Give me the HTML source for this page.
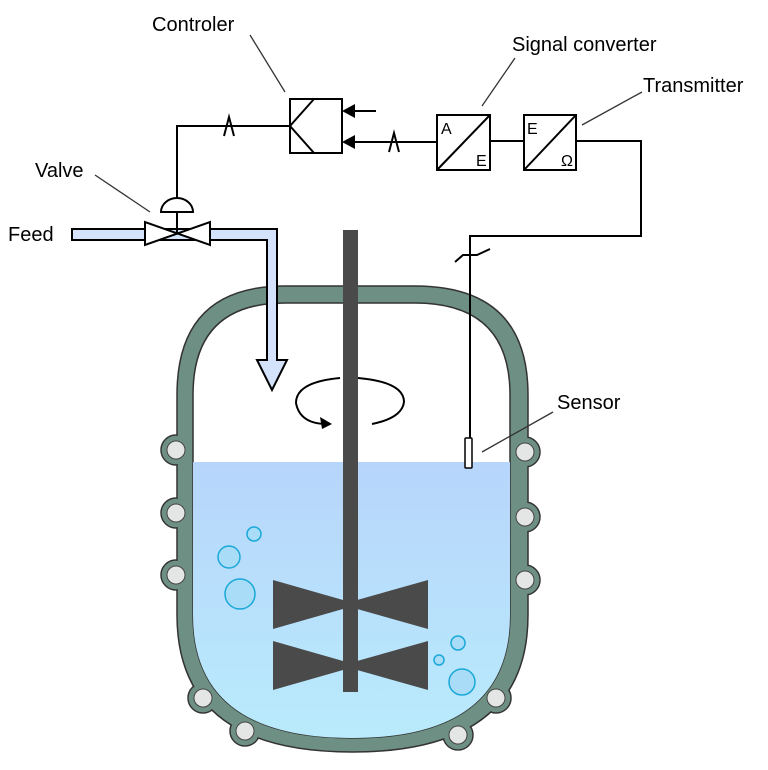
<!DOCTYPE html>
<html><head><style>body{margin:0;background:#fff}svg{display:block}text{font-family:"Liberation Sans",sans-serif;font-size:20px;fill:#000}</style></head>
<body>
<svg width="768" height="770" viewBox="0 0 768 770">
<defs>
<linearGradient id="liq" x1="0" y1="0" x2="0" y2="1"><stop offset="0" stop-color="#b7d5fb"/><stop offset="1" stop-color="#b9ecfc"/></linearGradient>
<clipPath id="inner"><path d="M193,395 Q193,303 285,303 L415,303 Q510,303 510,395 L510,615 Q510,738 352,738 Q193,738 193,615 Z"/></clipPath>
</defs>
<!-- nozzles outlines -->
<g fill="#6e8f84" stroke="#333" stroke-width="1.5">
<circle cx="176" cy="450" r="15"/><circle cx="176" cy="513" r="15"/><circle cx="176" cy="575" r="15"/>
<circle cx="525" cy="452" r="15"/><circle cx="525" cy="517" r="15"/><circle cx="525" cy="580" r="15"/>
<circle cx="203" cy="698" r="15"/><circle cx="245" cy="731" r="15"/><circle cx="458" cy="735" r="15"/><circle cx="496" cy="698" r="15"/>
</g>
<!-- vessel -->
<path d="M177,395 Q177,286 285,286 L415,286 Q528,286 528,395 L528,615 Q528,752 352,752 Q177,752 177,615 Z" fill="#6e8f84" stroke="#333" stroke-width="1.5"/>
<g fill="#6e8f84">
<circle cx="176" cy="450" r="14.2"/><circle cx="176" cy="513" r="14.2"/><circle cx="176" cy="575" r="14.2"/>
<circle cx="525" cy="452" r="14.2"/><circle cx="525" cy="517" r="14.2"/><circle cx="525" cy="580" r="14.2"/>
<circle cx="203" cy="698" r="14.2"/><circle cx="245" cy="731" r="14.2"/><circle cx="458" cy="735" r="14.2"/><circle cx="496" cy="698" r="14.2"/>
</g>
<path d="M193,395 Q193,303 285,303 L415,303 Q510,303 510,395 L510,615 Q510,738 352,738 Q193,738 193,615 Z" fill="#fff" stroke="#333" stroke-width="1.5"/>
<rect x="190" y="462" width="325" height="290" fill="url(#liq)" clip-path="url(#inner)"/>
<g fill="#e3e6e4" stroke="#444" stroke-width="1">
<circle cx="176" cy="450" r="9"/><circle cx="176" cy="513" r="9"/><circle cx="176" cy="575" r="9"/>
<circle cx="525" cy="452" r="9"/><circle cx="525" cy="517" r="9"/><circle cx="525" cy="580" r="9"/>
<circle cx="203" cy="698" r="9"/><circle cx="245" cy="731" r="9"/><circle cx="458" cy="735" r="9"/><circle cx="496" cy="698" r="9"/>
</g>
<!-- bubbles -->
<g fill="#a9dcf7" stroke="#1aa8d8" stroke-width="1.5">
<circle cx="254" cy="534" r="7"/><circle cx="229" cy="557" r="11"/><circle cx="240" cy="594" r="15"/>
<circle cx="458" cy="643" r="7"/><circle cx="439" cy="660" r="5"/><circle cx="462" cy="682" r="13"/>
</g>
<!-- shaft & blades -->
<rect x="343" y="230" width="15" height="462" fill="#4a4a4a"/>
<polygon points="273,580 350,602 428,580 428,629 350,607 273,629" fill="#4a4a4a"/>
<polygon points="273,641 350,663 428,641 428,690 350,668 273,690" fill="#4a4a4a"/>
<!-- rotation -->
<path d="M340,378 Q296,382 296,403 Q300,425 330,424" fill="none" stroke="#000" stroke-width="2"/>
<path d="M358,378 Q404,382 404,402 Q402,418 372,424" fill="none" stroke="#000" stroke-width="2"/>
<polygon points="332,424 320,417 322,429" fill="#000"/>
<!-- feed pipe -->
<path d="M72,229 L277,229 L277,360 L287,360 L272,390 L257,360 L267,360 L267,240 L72,240 Z" fill="#d4e3fb" stroke="#000" stroke-width="2"/>
<!-- valve -->
<polygon points="145,222 145,245 210,222 210,245" fill="#fff" stroke="#000" stroke-width="2"/>
<path d="M177,233 L177,212" stroke="#000" stroke-width="2"/>
<path d="M161,212 A16,14 0 0 1 193,212 Z" fill="#fff" stroke="#000" stroke-width="2"/>
<path d="M177,198 L177,126 L290,126" fill="none" stroke="#000" stroke-width="2"/>
<path d="M224,136 L229,117 L234,136" fill="none" stroke="#000" stroke-width="2"/>
<!-- controller -->
<rect x="290" y="99" width="52" height="54" fill="#fff" stroke="#000" stroke-width="2"/>
<path d="M314,99 L290,126 L314,153" fill="none" stroke="#000" stroke-width="2"/>
<path d="M376,111 L350,111" stroke="#000" stroke-width="2"/><polygon points="342,111 355,104 355,118" fill="#000"/>
<path d="M437,142 L350,142" stroke="#000" stroke-width="2"/><polygon points="342,142 355,135 355,149" fill="#000"/>
<path d="M389,152 L394,133 L399,152" fill="none" stroke="#000" stroke-width="2"/>
<!-- converter -->
<rect x="437" y="115" width="53" height="55" fill="#fff" stroke="#000" stroke-width="2"/>
<path d="M437,170 L490,115" stroke="#000" stroke-width="2"/>
<text x="441" y="134" style="font-size:16px">A</text><text x="476" y="166" style="font-size:16px">E</text>
<path d="M490,141 L524,141" stroke="#000" stroke-width="2"/>
<rect x="524" y="115" width="52" height="55" fill="#fff" stroke="#000" stroke-width="2"/>
<path d="M524,170 L576,115" stroke="#000" stroke-width="2"/>
<text x="527" y="134" style="font-size:16px">E</text><text x="561" y="166" style="font-size:16px">Ω</text>
<path d="M576,141 L641,141 L641,236 L470,236 L470,438" fill="none" stroke="#000" stroke-width="2"/>
<path d="M455,262 L463,255 L477,255 L490,249" fill="none" stroke="#000" stroke-width="2"/>
<rect x="465" y="438" width="7" height="30" rx="1" fill="#fff" stroke="#000" stroke-width="1.5"/>
<!-- labels -->
<g stroke="#333" stroke-width="1.3">
<path d="M250,35 L285,92"/><path d="M515,58 L482,106"/><path d="M642,92 L582,125"/><path d="M95,175 L150,212"/><path d="M553,412 L482,452"/>
</g>
<text x="152" y="31">Controler</text>
<text x="512" y="51">Signal converter</text>
<text x="643" y="92">Transmitter</text>
<text x="35" y="177">Valve</text>
<text x="8" y="241">Feed</text>
<text x="557" y="409">Sensor</text>
</svg>
</body></html>
